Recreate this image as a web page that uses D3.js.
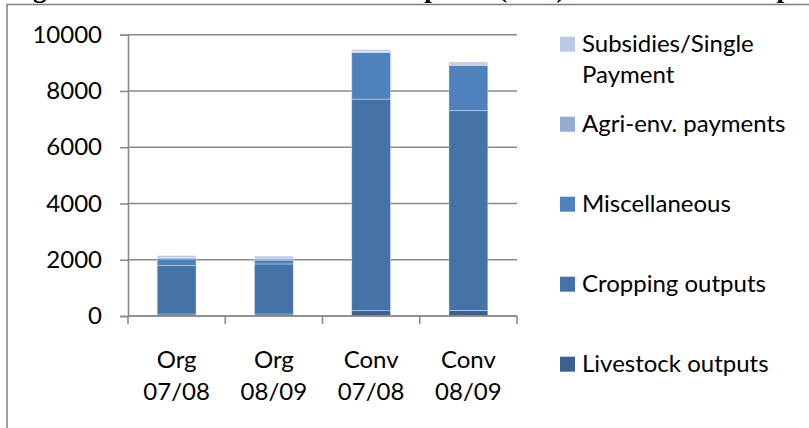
<!DOCTYPE html>
<html>
<head>
<meta charset="utf-8">
<script src="https://cdn.jsdelivr.net/npm/d3@7"></script>
<style>
  body { margin: 0; background: #fff; }
  svg { display: block; }
  text { font-family: Lato, "Open Sans", sans-serif; fill: #000; }
</style>
</head>
<body>
<div id="chart"></div>
<script>
// chart data
var categories = ['Org 07/08', 'Org 08/09', 'Conv 07/08', 'Conv 08/09'];
var catLines = [['Org', '07/08'], ['Org', '08/09'], ['Conv', '07/08'], ['Conv', '08/09']];
var seriesNames = ['Livestock outputs', 'Cropping outputs', 'Miscellaneous', 'Agri-env. payments', 'Subsidies/Single Payment'];
var livestock = [70, 70, 190, 200];
var cropping = [1720, 1780, 7520, 7100];
var misc = [240, 140, 1660, 1610];
var agriEnv = [50, 70, 35, 45];
var subsidies = [70, 70, 60, 75];
var yTicks = [0, 2000, 4000, 6000, 8000, 10000];
var colors = ['#3c6190', '#4473a8', '#4f81bd', '#95abd2', '#b9c8e4'];

var width = 809, height = 428;

var svg = d3.select('#chart').append('svg')
    .attr('width', width)
    .attr('height', height);

// title (cut off at top of picture)
svg.append('text')
    .attr('x', 9)
    .attr('y', -3)
    .style('font-family', '"Liberation Serif", "Times New Roman", serif')
    .style('font-weight', 'bold')
    .style('font-size', '27px')
    .text('Figure 6: Farm Income sources compared (£/ha) for the whole sample');

// outer frame
svg.append('rect')
    .attr('x', 7).attr('y', 4.5)
    .attr('width', 900).attr('height', 500)
    .attr('fill', 'none')
    .attr('stroke', '#808080')
    .attr('stroke-width', 1.5);

var x = d3.scaleBand()
    .domain(categories)
    .range([128, 517])
    .paddingInner(0.6)
    .paddingOuter(0.3);

var y = d3.scaleLinear()
    .domain([0, 10000])
    .range([316, 34.7]);

var gridColor = '#8a8a8a';

// gridlines
svg.append('g').selectAll('line')
    .data(yTicks)
    .enter().append('line')
    .attr('x1', 128).attr('x2', 517)
    .attr('y1', function(d) { return y(d); })
    .attr('y2', function(d) { return y(d); })
    .attr('stroke', gridColor)
    .attr('stroke-width', 1.6);

// stacked bars
var rows = categories.map(function(c, i) {
    return {
        cat: c,
        s0: livestock[i], s1: cropping[i], s2: misc[i], s3: agriEnv[i], s4: subsidies[i]
    };
});
var stack = d3.stack().keys(['s0', 's1', 's2', 's3', 's4']);
var layers = stack(rows);

svg.append('g').selectAll('g')
    .data(layers)
    .enter().append('g')
    .attr('fill', function(d, i) { return colors[i]; })
    .selectAll('rect')
    .data(function(d) { return d; })
    .enter().append('rect')
    .attr('x', function(d) { return x(d.data.cat); })
    .attr('width', x.bandwidth())
    .attr('y', function(d) { return y(d[1]); })
    .attr('height', function(d) { return y(d[0]) - y(d[1]); })
    .attr('stroke', 'rgba(255,255,255,0.45)')
    .attr('stroke-width', 0.8);

// y axis
var yAxis = d3.axisLeft(y)
    .tickValues(yTicks)
    .tickSize(8)
    .tickPadding(18)
    .tickFormat(d3.format('d'));

var gy = svg.append('g')
    .attr('transform', 'translate(128,0)')
    .call(yAxis);
gy.select('.domain').attr('stroke', gridColor).attr('stroke-width', 1.6);
gy.selectAll('.tick line').attr('stroke', gridColor).attr('stroke-width', 1.6);
gy.selectAll('text')
    .style('font-family', 'Lato, "Open Sans", sans-serif')
    .style('font-size', '24px')
    .attr('fill', '#000');

// x axis with ticks between categories
var bounds = categories.map(function(c) { return x(c) - x.step() * 0.3; });
bounds.push(517);

var gx = svg.append('g');
gx.append('line')
    .attr('x1', 128).attr('x2', 517)
    .attr('y1', y(0)).attr('y2', y(0))
    .attr('stroke', gridColor)
    .attr('stroke-width', 1.6);
gx.selectAll('.xtick')
    .data(bounds)
    .enter().append('line')
    .attr('class', 'xtick')
    .attr('x1', function(d) { return d; })
    .attr('x2', function(d) { return d; })
    .attr('y1', y(0)).attr('y2', y(0) + 8)
    .attr('stroke', gridColor)
    .attr('stroke-width', 1.6);

var xl = gx.selectAll('.xlab')
    .data(categories)
    .enter().append('text')
    .attr('class', 'xlab')
    .attr('text-anchor', 'middle')
    .style('font-size', '24px');
xl.append('tspan')
    .attr('x', function(d) { return x(d) + x.bandwidth() / 2; })
    .attr('y', 368)
    .text(function(d, i) { return catLines[i][0]; });
xl.append('tspan')
    .attr('x', function(d) { return x(d) + x.bandwidth() / 2; })
    .attr('y', 400)
    .text(function(d, i) { return catLines[i][1]; });

// legend, top item is the last series
var legendOrder = [4, 3, 2, 1, 0];
var legend = svg.append('g').selectAll('g')
    .data(legendOrder)
    .enter().append('g')
    .attr('transform', function(d, i) { return 'translate(560,' + (36.7 + i * 80) + ')'; });

legend.append('rect')
    .attr('width', 15).attr('height', 15)
    .attr('fill', function(d) { return colors[d]; });

legend.append('text')
    .attr('x', 22)
    .attr('y', 15)
    .style('font-size', '24px')
    .each(function(d) {
        var t = d3.select(this);
        if (d === 4) {
            t.append('tspan').attr('x', 22).attr('y', 15).text('Subsidies/Single');
            t.append('tspan').attr('x', 22).attr('y', 46.6).text('Payment');
        } else {
            t.text(seriesNames[d]);
        }
    });
</script>
</body>
</html>
